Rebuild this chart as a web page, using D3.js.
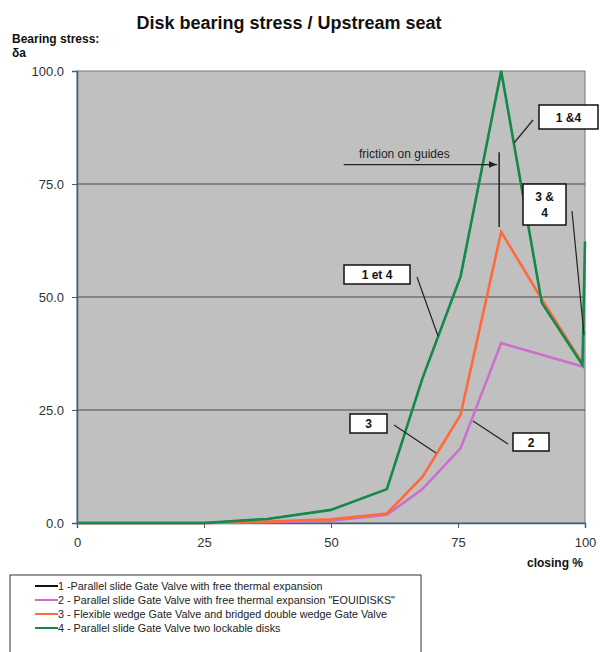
<!DOCTYPE html>
<html>
<head>
<meta charset="utf-8">
<script src="https://cdn.jsdelivr.net/npm/d3@7"></script>
<style>
  body { margin: 0; background: #fff; }
  svg { font-family: "Liberation Sans", Arial, sans-serif; }
</style>
</head>
<body>
<svg id="chart" width="600" height="652"></svg>
<script>
// closing % positions of the measured points
const closing = [0, 12.5, 25, 37.5, 50, 61, 68, 75.5, 83.5, 91.5, 99.5, 100];

// bearing stress per valve type (null = no point)
const valve1 = [0, 0, 0, 0.9, 2.9, 7.5, 32, 54.5, 100, 48.7, 35, null];
const valve2 = [0, 0, 0, 0.2, 0.5, 1.8, 7.5, 16.5, 39.8, 37.2, 34.6, null];
const valve3 = [0, 0, 0, 0.3, 0.8, 2.1, 10.2, 23.9, 64.4, 49.5, 35.3, null];
const valve4 = [0, 0, 0, 0.9, 2.9, 7.5, 32, 54.5, 100, 48.7, 35, 62.3];

const legendLabels = [
  '1 -Parallel slide Gate Valve with free thermal expansion',
  '2 - Parallel slide Gate Valve with free thermal expansion "EOUIDISKS"',
  '3 - Flexible wedge Gate Valve and bridged double wedge Gate Valve',
  '4 - Parallel slide Gate Valve two lockable disks'
];
const colors = ['#111', '#cc6fcc', '#ff6a3d', '#138a4a'];
const widths = [1.4, 2.6, 2.6, 2.6];

const xTicks = [0, 25, 50, 75, 100];
const yTicks = [0, 25, 50, 75, 100];

var svg = d3.select('#chart');

var margin = {top: 71, left: 77, right: 15, bottom: 129};
var width = 600 - margin.left - margin.right,
    height = 652 - margin.top - margin.bottom;

var x = d3.scaleLinear().domain([0, 100]).range([margin.left, margin.left + width]);
var y = d3.scaleLinear().domain([0, 100]).range([margin.top + height, margin.top]);

// title
svg.append('text')
  .attr('x', 289).attr('y', 29)
  .attr('text-anchor', 'middle')
  .attr('font-size', 18).attr('font-weight', 'bold')
  .attr('fill', '#111')
  .text('Disk bearing stress / Upstream seat');

svg.append('text')
  .attr('x', 12).attr('y', 43)
  .attr('font-size', 12).attr('font-weight', 'bold').attr('fill', '#111')
  .text('Bearing stress:');
svg.append('text')
  .attr('x', 12).attr('y', 57)
  .attr('font-size', 12).attr('font-weight', 'bold').attr('fill', '#111')
  .text('δa');

// plot area
svg.append('rect')
  .attr('x', x(0)).attr('y', y(100))
  .attr('width', x(100) - x(0)).attr('height', y(0) - y(100))
  .attr('fill', '#c0c0c0')
  .attr('stroke', '#6a7a88').attr('stroke-width', 1);

// gridlines
svg.append('g')
  .selectAll('line')
  .data(yTicks.filter(d => d > 0 && d < 100))
  .join('line')
  .attr('x1', x(0)).attr('x2', x(100))
  .attr('y1', d => y(d)).attr('y2', d => y(d))
  .attr('stroke', '#4a4a4a').attr('stroke-width', 1);

// axes
var yAxis = svg.append('g')
  .attr('transform', `translate(${x(0)},0)`)
  .call(d3.axisLeft(y).tickValues(yTicks).tickFormat(d3.format('.1f')).tickSize(5).tickPadding(8));
var xAxis = svg.append('g')
  .attr('transform', `translate(0,${y(0)})`)
  .call(d3.axisBottom(x).tickValues(xTicks).tickSize(5).tickPadding(10));

[yAxis, xAxis].forEach(function(a) {
  a.select('.domain').attr('stroke', '#3e6078').attr('stroke-width', 1.5);
  a.selectAll('.tick line').attr('stroke', '#3e6078');
  a.selectAll('.tick text').attr('font-size', 13).attr('fill', '#333')
    .attr('font-family', '"Liberation Sans", Arial, sans-serif');
});

svg.append('text')
  .attr('x', 583).attr('y', 567)
  .attr('text-anchor', 'end')
  .attr('font-size', 12).attr('font-weight', 'bold').attr('fill', '#111')
  .text('closing %');

// series lines
var series = [valve1, valve2, valve3, valve4];
var line = d3.line()
  .defined(d => d[1] != null)
  .x(d => x(d[0]))
  .y(d => y(d[1]));

svg.append('g')
  .selectAll('path')
  .data(series)
  .join('path')
  .attr('d', s => line(closing.map((c, i) => [c, s[i]])))
  .attr('fill', 'none')
  .attr('stroke', (s, i) => colors[i])
  .attr('stroke-width', (s, i) => widths[i])
  .attr('stroke-linejoin', 'miter');

// friction on guides marker
svg.append('defs').append('marker')
  .attr('id', 'arrow')
  .attr('viewBox', '0 0 10 10')
  .attr('refX', 10).attr('refY', 5)
  .attr('markerWidth', 7).attr('markerHeight', 7)
  .attr('orient', 'auto')
  .append('path').attr('d', 'M0,1 L10,5 L0,9 Z').attr('fill', '#222');

svg.append('line')
  .attr('x1', x(52.5)).attr('x2', x(82.7))
  .attr('y1', y(79.3)).attr('y2', y(79.3))
  .attr('stroke', '#222').attr('stroke-width', 1.2)
  .attr('marker-end', 'url(#arrow)');
svg.append('line')
  .attr('x1', x(83.1)).attr('x2', x(83.1))
  .attr('y1', y(82)).attr('y2', y(65.5))
  .attr('stroke', '#222').attr('stroke-width', 1.5);
svg.append('text')
  .attr('x', x(55.5)).attr('y', y(80.7))
  .attr('font-size', 12).attr('fill', '#222')
  .text('friction on guides');

// callouts: box position, leader line, text
var callouts = [
  {lines: ['1 &4'], box: [539, 105, 59, 24], lead: [533, 120, 514, 143]},
  {lines: ['3 &', '4'], box: [523, 184, 43, 41], lead: [572, 211, 584, 335]},
  {lines: ['1 et 4'], box: [344, 265, 66, 19], lead: [417, 277, 438, 336]},
  {lines: ['3'], box: [350, 414, 37, 19], lead: [394, 425, 436, 453]},
  {lines: ['2'], box: [513, 433, 36, 18], lead: [508, 444, 473, 421]}
];

var cg = svg.append('g');
callouts.forEach(function(c) {
  cg.append('line')
    .attr('x1', c.lead[0]).attr('y1', c.lead[1])
    .attr('x2', c.lead[2]).attr('y2', c.lead[3])
    .attr('stroke', '#222').attr('stroke-width', 1.2);
  cg.append('rect')
    .attr('x', c.box[0]).attr('y', c.box[1])
    .attr('width', c.box[2]).attr('height', c.box[3])
    .attr('fill', '#fff').attr('stroke', '#111').attr('stroke-width', 1.5);
  var t = cg.append('text')
    .attr('text-anchor', 'middle')
    .attr('font-size', 12).attr('font-weight', 'bold').attr('fill', '#111');
  c.lines.forEach(function(l, i) {
    t.append('tspan')
      .attr('x', c.box[0] + c.box[2] / 2)
      .attr('y', c.box[1] + c.box[3] / 2 + 4.5 + (i - (c.lines.length - 1) / 2) * 16)
      .text(l);
  });
});

// legend
var lg = svg.append('g');
lg.append('rect')
  .attr('x', 10).attr('y', 575).attr('width', 411).attr('height', 90)
  .attr('fill', '#fff').attr('stroke', '#333').attr('stroke-width', 1);

legendLabels.forEach(function(label, i) {
  var ly = 586 + i * 14;
  lg.append('line')
    .attr('x1', 35).attr('x2', 58)
    .attr('y1', ly).attr('y2', ly)
    .attr('stroke', colors[i]).attr('stroke-width', 2);
  lg.append('text')
    .attr('x', 58).attr('y', ly + 4)
    .attr('font-size', 10.8).attr('fill', '#222')
    .text(label);
});
</script>
</body>
</html>
